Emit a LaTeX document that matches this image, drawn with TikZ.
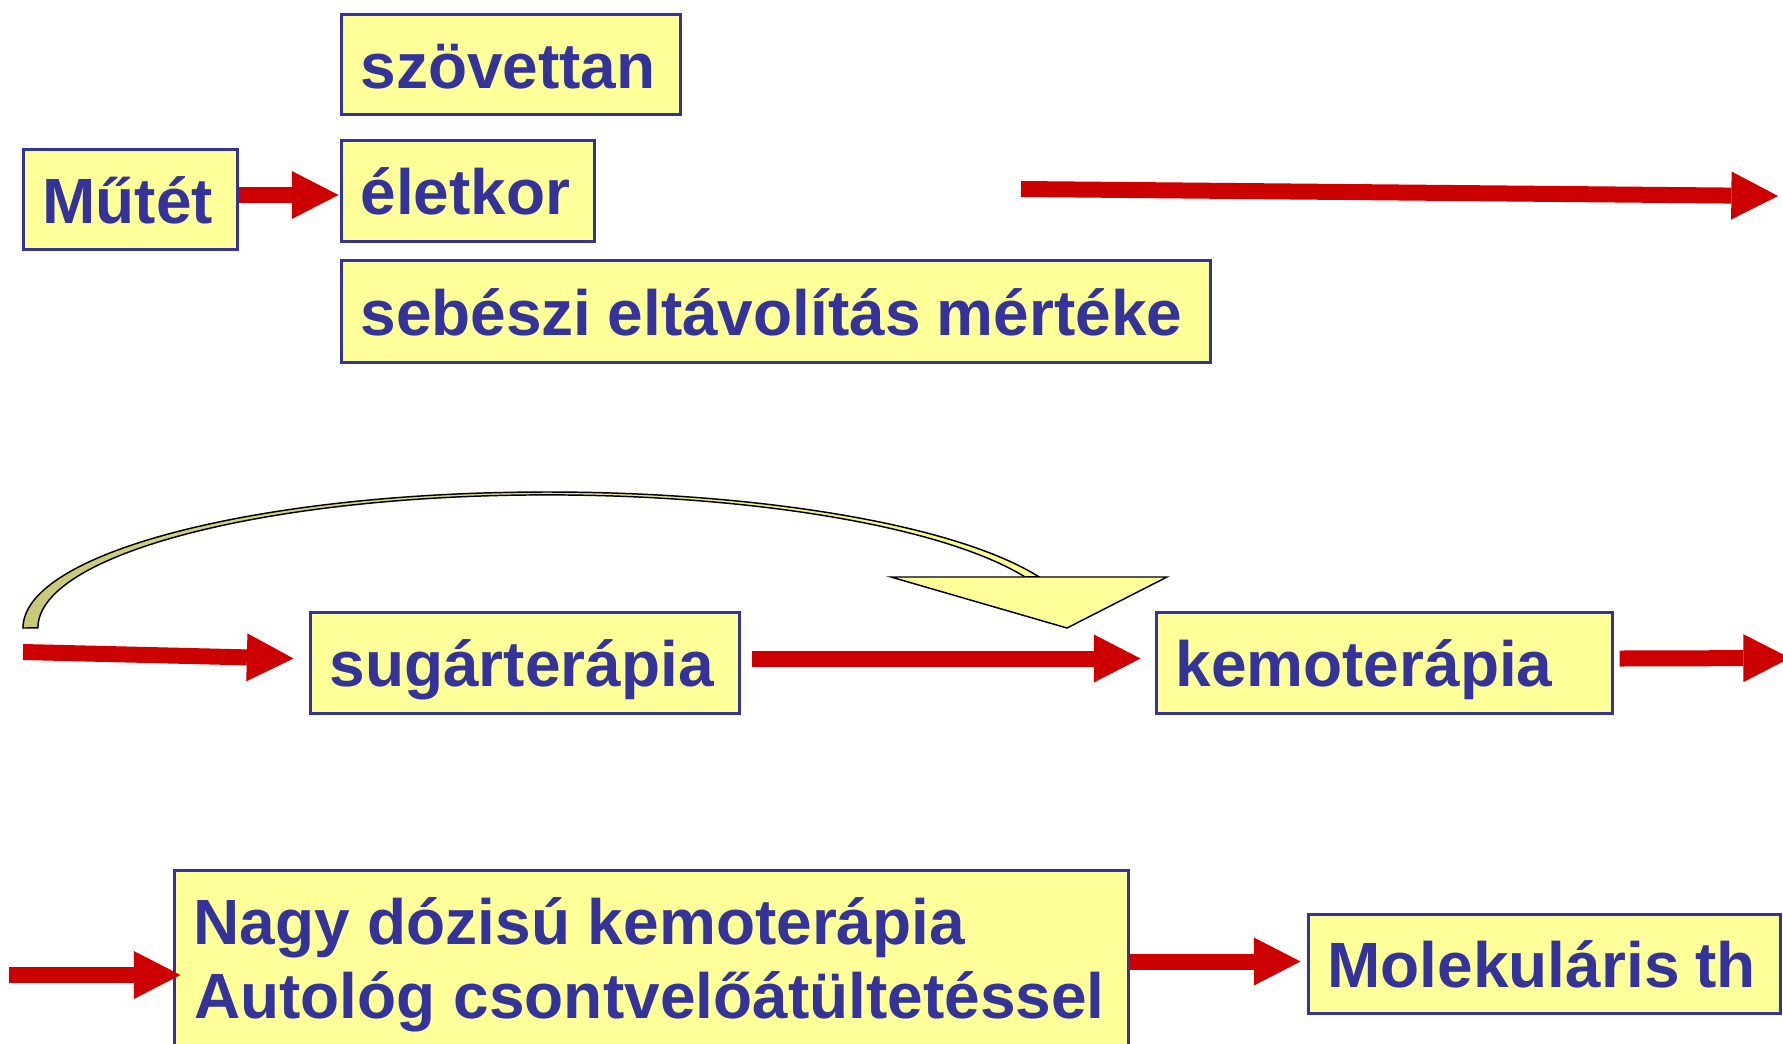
\documentclass[tikz,border=0pt]{standalone}
\usepackage{fontspec}
\setmainfont{Liberation Sans}
\usetikzlibrary{arrows.meta,calc}
\definecolor{boxblue}{HTML}{333399}
\definecolor{boxfill}{HTML}{FFFF99}
\definecolor{arrred}{HTML}{CC0000}
\definecolor{khaki}{HTML}{C8C878}
\newcommand{\boxline}[1]{\mbox{\spaceskip=0.9\fontdimen2\font\kern2.6pt #1}}
\begin{document}
\begin{tikzpicture}[x=0.75pt,y=-0.75pt,
  box/.style={draw=boxblue, line width=2.25pt, fill=boxfill, text=boxblue,
    font=\fontsize{48}{55}\selectfont\bfseries, inner xsep=12pt, inner ysep=0pt,
    text height=45.6pt, text depth=9.6pt, align=left, anchor=center},
  boxtext/.style={text=boxblue, font=\fontsize{48}{55}\selectfont\bfseries, inner sep=0pt},
  redarrow/.style={draw=arrred, line width=12pt,
    -{Triangle[length=35pt,width=36pt,line width=0pt]}},
  bandshape/.style={draw=black, line width=1.1pt, left color=khaki, right color=boxfill},
  headshape/.style={draw=black, line width=1.1pt, fill=boxfill, line join=miter}
]
\useasboundingbox (0,0) rectangle (1783,1043);
\clip (0,0) rectangle (1783,1043);
\fill[white] (0,0) rectangle (1783,1043);

% boxes
\node[box, minimum width=254.25pt, minimum height=75pt, text width=230.25pt] (szov) at (510.5,64) {\boxline{szövettan}};
\node[box, minimum width=160.5pt, minimum height=75pt, text width=136.5pt] (mutet) at (130,199) {\boxline{Műtét}};
\node[box, minimum width=189.75pt, minimum height=75.75pt, text width=165.75pt] (elet) at (467.5,190.5) {\boxline{életkor}};
\node[box, minimum width=651.75pt, minimum height=76.5pt, text width=627.75pt] (seb) at (775.5,311) {\boxline{sebészi eltávolítás mértéke}};
\node[box, minimum width=321.75pt, minimum height=75.75pt, text width=297.75pt] (sug) at (524.5,662.5) {\boxline{sugárterápia}};
\node[box, minimum width=342pt, minimum height=75.75pt, text width=318pt] (kemo) at (1384,662.5) {\boxline{kemoterápia}};
\node[box, minimum width=354pt, minimum height=74.25pt, text width=330pt] (mol) at (1544,963.5) {\boxline{Molekuláris th}};
\node[box, minimum width=715.5pt, minimum height=150pt, text width=691.5pt] (nagy) at (651,970) {};
\node[boxtext, anchor=base west] (nagy1) at (193,944) {Nagy dózisú kemoterápia};
\node[boxtext, anchor=base west] (nagy2) at (194,1018) {Autológ csontvelőátültetéssel};

% red arrows
\draw[redarrow] ($(mutet.east)+(0,-4)$) -- ($(mutet.east -| elet.west)+(-1,-4)$);
\coordinate (t1) at (1021,189);
\coordinate (t2) at (1778,196);
\draw[redarrow] (t1) -- (t2);

\coordinate (r2s) at (23,652);
\draw[redarrow] (r2s) -- ($(sug.west)+(-15,-4)$);
\draw[redarrow] ($(sug.east)+(11,-4)$) -- ($(kemo.west)+(-14,-4)$);
\coordinate (r2e) at (1790,658);
\draw[redarrow] ($(kemo.east)+(6,-4)$) -- (r2e);

\coordinate (r3s) at (9,975);
\draw[redarrow] (r3s) -- ($(r3s -| nagy.west)+(8,0)$);
\draw[redarrow] ($(nagy.east |- mol.west)+(0,-2)$) -- ($(mol.west)+(-6,-2)$);

% curved arrow
\path[bandshape] (23,628)
  arc[start angle=180, end angle=270, x radius=524, y radius=136]
  arc[start angle=270, end angle=337.9, x radius=531, y radius=136]
  -- (1025,577)
  arc[start angle=337.5, end angle=270, x radius=517.5, y radius=133]
  arc[start angle=270, end angle=180, x radius=509, y radius=133]
  -- cycle;
\path[headshape] (891,577) -- (1167,577) -- (1067,628) -- cycle;
\end{tikzpicture}
\end{document}
